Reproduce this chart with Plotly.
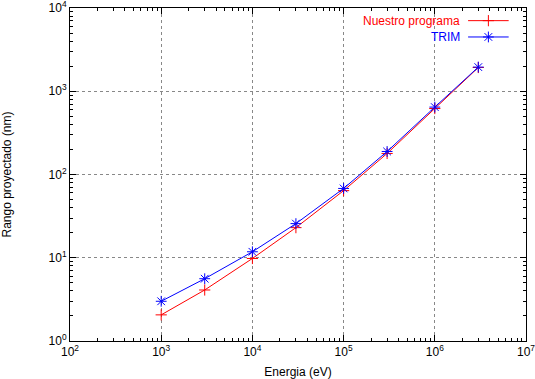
import plotly.graph_objects as go

energia = [1e3, 3e3, 1e4, 3e4, 1e5, 3e5, 1e6, 3e6]
nuestro = [2.06, 4.1, 9.8, 23, 64, 179, 620, 1930]
trim = [3.0, 5.6, 11.8, 25.7, 68, 189, 645, 1950]
series_names = ["Nuestro programa", "TRIM"]
colors = ["#ff0000", "#0000ff"]
x_tickvals = [1e2, 1e3, 1e4, 1e5, 1e6, 1e7]
x_ticktext = ["10<sup>2</sup>", "10<sup>3</sup>", "10<sup>4</sup>", "10<sup>5</sup>", "10<sup>6</sup>", "10<sup>7</sup>"]
y_tickvals = [1e0, 1e1, 1e2, 1e3, 1e4]
y_ticktext = ["10<sup>0</sup>", "10<sup>1</sup>", "10<sup>2</sup>", "10<sup>3</sup>", "10<sup>4</sup>"]

x_minor = [m * d for d in x_tickvals[:-1] for m in range(2, 10)]
y_minor = [m * d for d in y_tickvals[:-1] for m in range(2, 10)]

FONT = "Liberation Sans, Arial, sans-serif"
FS = 12

fig = go.Figure()
fig.add_trace(go.Scatter(x=energia, y=nuestro, mode="lines+markers", name=series_names[0],
                         line=dict(color=colors[0], width=1),
                         marker=dict(symbol="cross-thin", size=8, line=dict(color=colors[0], width=1)),
                         showlegend=False))
fig.add_trace(go.Scatter(x=energia, y=trim, mode="lines+markers", name=series_names[1],
                         line=dict(color=colors[1], width=1),
                         marker=dict(symbol="asterisk", size=9, line=dict(color=colors[1], width=1)),
                         showlegend=False))

# invisible trace carrying the minor-tick overlay axes
fig.add_trace(go.Scatter(x=[energia[0]], y=[nuestro[0]], xaxis="x3", yaxis="y3", mode="markers",
                         marker=dict(opacity=0), showlegend=False, hoverinfo="skip"))

# custom legend (text then sample, gnuplot style) on an overlay axis
leg_y = [0.962, 0.913]
for i in range(2):
    fig.add_trace(go.Scatter(x=[0.873, 0.962], y=[leg_y[i], leg_y[i]], xaxis="x2", yaxis="y2",
                             mode="lines", line=dict(color=colors[i], width=1),
                             showlegend=False, hoverinfo="skip"))
    fig.add_trace(go.Scatter(x=[0.9175], y=[leg_y[i]], xaxis="x2", yaxis="y2", mode="markers",
                             marker=dict(symbol=["cross-thin", "asterisk"][i], size=[8, 9][i],
                                         line=dict(color=colors[i], width=1)),
                             showlegend=False, hoverinfo="skip"))
    fig.add_annotation(x=0.86, y=leg_y[i], xref="x2", yref="y2", text=series_names[i],
                       showarrow=False, xanchor="right", yanchor="middle",
                       font=dict(color=colors[i], size=FS, family=FONT))

axis_common = dict(type="log", tickmode="array",
                   ticks="inside", ticklen=6, tickcolor="black", showline=True,
                   linecolor="black", linewidth=1, mirror="allticks", automargin=False,
                   showgrid=True, gridcolor="#888888", griddash="dot", gridwidth=1,
                   zeroline=False, ticklabeloverflow="allow",
                   tickfont=dict(size=FS, family=FONT, color="black"))

minor_common = dict(type="log", tickmode="array", ticks="inside", ticklen=3, tickcolor="black",
                    showline=False, mirror="allticks", showgrid=False, zeroline=False,
                    showticklabels=False, automargin=False)

fig.update_layout(
    width=535, height=379,
    margin=dict(l=70, r=9, t=8, b=38),
    paper_bgcolor="white", plot_bgcolor="white",
    font=dict(family=FONT, size=FS, color="black"),
    xaxis=dict(range=[2, 7], tickvals=x_tickvals, ticktext=x_ticktext,
               title=dict(text="Energia (eV)", standoff=9, font=dict(size=FS)), **axis_common),
    yaxis=dict(range=[0, 4], tickvals=y_tickvals, ticktext=y_ticktext,
               title=dict(text="Rango proyectado (nm)", standoff=36, font=dict(size=FS)), **axis_common),
    xaxis2=dict(range=[0, 1], overlaying="x", visible=False, anchor="y2"),
    yaxis2=dict(range=[0, 1], overlaying="y", visible=False, anchor="x2"),
    xaxis3=dict(range=[2, 7], tickvals=x_minor, overlaying="x", anchor="y3", **minor_common),
    yaxis3=dict(range=[0, 4], tickvals=y_minor, overlaying="y", anchor="x3", **minor_common),
)

fig.write_html("out.html", config={"displayModeBar": False},
               post_script="document.body.style.margin='0';")
